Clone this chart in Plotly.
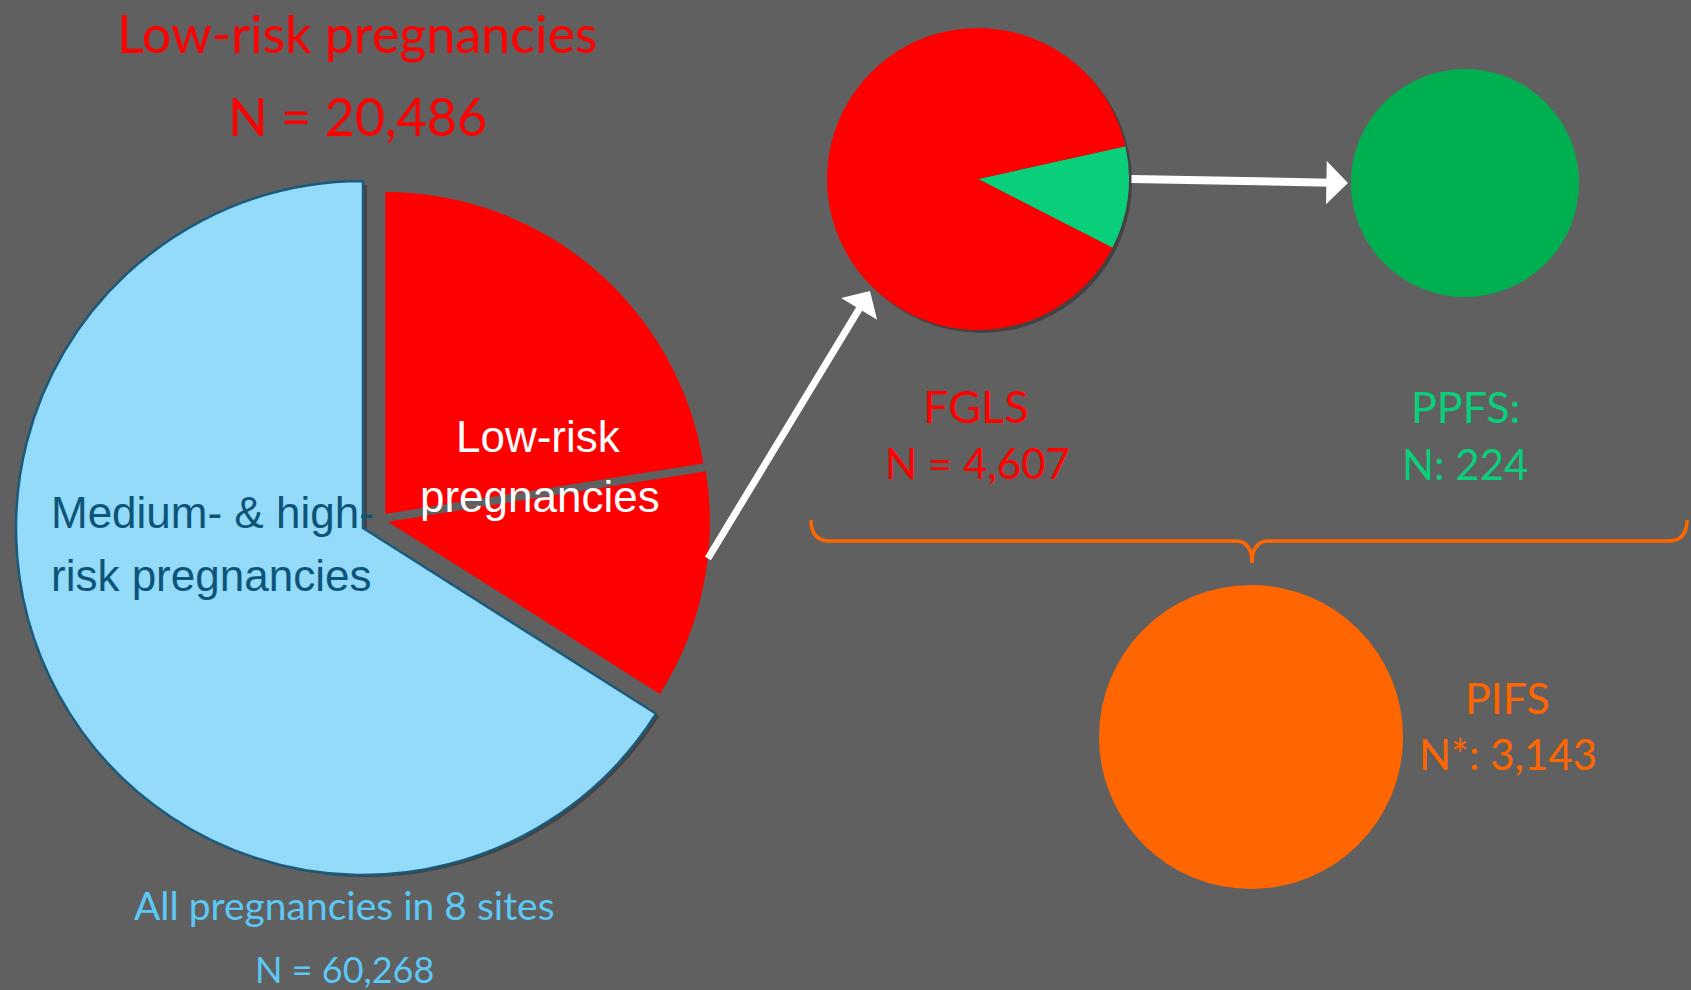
import plotly.graph_objects as go

# ---- data -------------------------------------------------------------
all_sites_n = 60268          # all pregnancies in 8 sites
low_risk_n = 20486           # low-risk pregnancies
medium_high_n = all_sites_n - low_risk_n
# low-risk wedge drawn in two pieces (upper / lower)
low_risk_parts = [13560, 6926]

fgls_n = 4607
ppfs_n = 224
pifs_n = 3143
# share of the FGLS disc highlighted in green (percent)
fgls_split_pct = [11.0, 89.0]

# ---- canvas -----------------------------------------------------------
W, H = 1691, 990
BG = "#606060"

RED = "#FF0000"
BLUE = "#94DBFA"
BLUE_EDGE = "#1C5A7A"
TEAL_TEXT = "#0D5578"
GREEN_SLICE = "#0ACF7A"
GREEN = "#00B050"
ORANGE = "#FF6600"
LIGHT_BLUE_TEXT = "#5CC8F5"
CLEAR = "rgba(0,0,0,0)"
SHADOW = "rgba(0,0,0,0.30)"


def dom(cx, cy, r, pull=0.0):
    """Pie domain (paper fractions) for a disc of radius r px centred at (cx, cy) px."""
    h = r * (1 + pull)
    return dict(x=[(cx - h) / W, (cx + h) / W], y=[1 - (cy + h) / H, 1 - (cy - h) / H])


big_values = low_risk_parts + [medium_high_n]
pie_common = dict(sort=False, direction="clockwise", rotation=0,
                  textinfo="none", hoverinfo="skip", showlegend=False)

fig = go.Figure()

# invisible frame trace so the pixel-space axes exist
fig.add_trace(go.Scatter(x=[0, W], y=[0, H], mode="markers",
                         marker=dict(opacity=0), hoverinfo="skip", showlegend=False))

# soft shadows
fig.add_trace(go.Pie(values=big_values, domain=dom(367, 531, 346),
                     marker=dict(colors=[CLEAR, CLEAR, SHADOW], line=dict(width=0)),
                     **pie_common))
fig.add_trace(go.Pie(values=[fgls_n], domain=dom(981, 182, 151),
                     marker=dict(colors=[SHADOW], line=dict(width=0)), **pie_common))

# medium- & high-risk share (blue)
fig.add_trace(go.Pie(values=big_values, domain=dom(363, 528, 347),
                     marker=dict(colors=[CLEAR, CLEAR, BLUE],
                                 line=dict(color=[CLEAR, CLEAR, BLUE_EDGE], width=[0, 0, 2.5])),
                     **pie_common))

# low-risk share (red), exploded
fig.add_trace(go.Pie(values=big_values, domain=dom(380, 520, 322, 0.025),
                     pull=[0.025, 0.025, 0],
                     marker=dict(colors=[RED, RED, CLEAR], line=dict(width=0)),
                     **pie_common))

# FGLS disc with PPFS share
fig.add_trace(go.Pie(values=fgls_split_pct, domain=dom(978, 179, 151),
                     marker=dict(colors=[GREEN_SLICE, RED], line=dict(width=0)),
                     **{**pie_common, "rotation": 77.5}))

# PPFS and PIFS discs
fig.add_trace(go.Pie(values=[ppfs_n], domain=dom(1465, 183, 114),
                     marker=dict(colors=[GREEN], line=dict(width=0)), **pie_common))
fig.add_trace(go.Pie(values=[pifs_n], domain=dom(1251, 737, 152),
                     marker=dict(colors=[ORANGE], line=dict(width=0)), **pie_common))

# ---- text -------------------------------------------------------------
CAL = "Lato, 'Open Sans', sans-serif"
ARIAL = "'Liberation Sans', Arial, sans-serif"


def label(text, x, y, size, color, family=CAL, xanchor="center"):
    return dict(text=text, x=x, y=y, xref="x", yref="y", showarrow=False,
                xanchor=xanchor, yanchor="middle",
                font=dict(family=family, size=size, color=color))


annotations = [
    label("Low-risk pregnancies", 357, 33, 52, RED),
    label(f"N = {low_risk_n:,}", 357, 116, 52, RED),
    label("Medium- & high-", 49, 512, 44, TEAL_TEXT, ARIAL, "left"),
    label("risk pregnancies", 49, 575, 44, TEAL_TEXT, ARIAL, "left"),
    label("Low-risk", 538, 436, 44, "white", ARIAL),
    label("pregnancies", 540, 496, 44, "white", ARIAL),
    label("All pregnancies in 8 sites", 344, 905, 39, LIGHT_BLUE_TEXT),
    label(f"N = {all_sites_n:,}", 344, 969, 36, LIGHT_BLUE_TEXT),
    label("FGLS", 976, 406, 45, RED),
    label(f"N = {fgls_n:,}", 977, 463, 42, RED),
    label("PPFS:", 1465, 406, 43, GREEN_SLICE),
    label(f"N: {ppfs_n}", 1465, 464, 42, GREEN_SLICE),
    label("PIFS", 1507, 697, 43, ORANGE),
    label(f"N*: {pifs_n:,}", 1508, 754, 42, ORANGE),
]

# flow arrows
arrow = dict(text="", showarrow=True, xref="x", yref="y", axref="x", ayref="y",
             arrowcolor="white", arrowhead=1, standoff=0, startstandoff=0)
annotations.append({**arrow, "x": 870, "y": 291, "ax": 707, "ay": 560,
                    "arrowwidth": 7, "arrowsize": 1.0})
annotations.append({**arrow, "x": 1348, "y": 183, "ax": 1130, "ay": 179,
                    "arrowwidth": 8, "arrowsize": 0.9})

# curly brace grouping FGLS and PPFS above PIFS
bx0, bx1, bmid = 811, 1687, 1252
btop, by, btip = 520, 541, 563
brace = (f"M {bx0},{btop} Q {bx0},{by} {bx0 + 19},{by} L {bmid - 17},{by} "
         f"Q {bmid},{by} {bmid},{btip} Q {bmid},{by} {bmid + 17},{by} "
         f"L {bx1 - 19},{by} Q {bx1},{by} {bx1},{btop}")

fig.update_layout(
    width=W, height=H,
    margin=dict(l=0, r=0, t=0, b=0),
    paper_bgcolor=BG, plot_bgcolor=BG,
    xaxis=dict(range=[0, W], visible=False, fixedrange=True),
    yaxis=dict(range=[H, 0], visible=False, fixedrange=True),
    annotations=annotations,
    shapes=[dict(type="path", path=brace, xref="x", yref="y",
                 line=dict(color=ORANGE, width=3.5))],
    showlegend=False,
)

fig.write_html("out.html", config={"displayModeBar": False})
